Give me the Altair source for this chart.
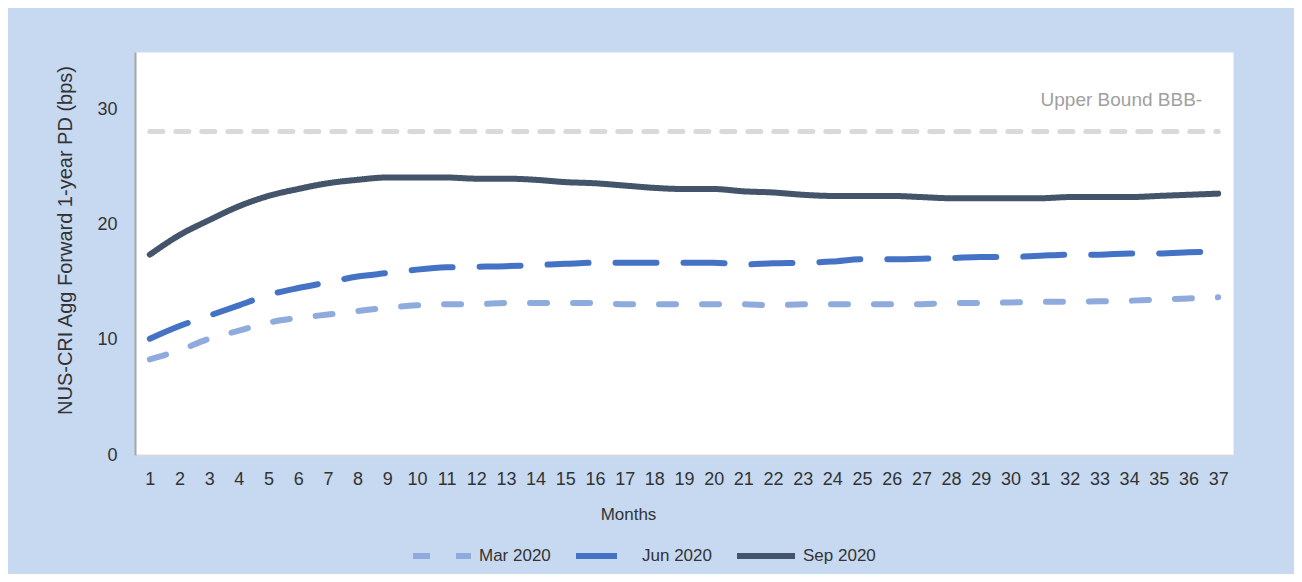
import altair as alt
import pandas as pd

months = list(range(1, 38))
series_names = ["Mar 2020", "Jun 2020", "Sep 2020"]
mar_2020 = [8.3, 9.1, 10.1, 10.8, 11.5, 11.9, 12.2, 12.5, 12.8, 13.0, 13.1, 13.1, 13.2,
            13.2, 13.2, 13.2, 13.1, 13.1, 13.1, 13.1, 13.1, 13.0, 13.1, 13.1, 13.1, 13.1,
            13.1, 13.2, 13.2, 13.25, 13.3, 13.3, 13.35, 13.4, 13.5, 13.6, 13.7]
jun_2020 = [10.1, 11.2, 12.1, 13.0, 13.9, 14.5, 15.0, 15.5, 15.8, 16.1, 16.3, 16.35, 16.4,
            16.5, 16.6, 16.7, 16.7, 16.7, 16.7, 16.7, 16.55, 16.65, 16.7, 16.8, 17.0, 17.0,
            17.05, 17.1, 17.2, 17.2, 17.3, 17.4, 17.4, 17.5, 17.5, 17.6, 17.7]
sep_2020 = [17.4, 19.1, 20.4, 21.6, 22.5, 23.1, 23.6, 23.9, 24.1, 24.1, 24.1, 24.0, 24.0,
            23.9, 23.7, 23.6, 23.4, 23.2, 23.1, 23.1, 22.9, 22.8, 22.6, 22.5, 22.5, 22.5,
            22.4, 22.3, 22.3, 22.3, 22.3, 22.4, 22.4, 22.4, 22.5, 22.6, 22.7]
upper_bound = 28.1
upper_label = "Upper Bound BBB-"
y_ticks = [0, 10, 20, 30]

colors = ["#8faadc", "#4472c4", "#44546a"]
dashes = [[17, 26], [41, 27], [1, 0]]

rows = []
for name, vals in zip(series_names, [mar_2020, jun_2020, sep_2020]):
    for m, v in zip(months, vals):
        rows.append({"Month": m, "PD": v, "Series": name})
df = pd.DataFrame(rows)
df_ub = pd.DataFrame({"Month": months, "PD": [upper_bound] * len(months)})
df_lbl = pd.DataFrame({"Month": [months[-1]], "PD": [upper_bound], "label": [upper_label]})

FONT = "Liberation Sans"

x_enc = alt.X("Month:O", axis=alt.Axis(
    title="Months", labelAngle=0, labelFontSize=18, labelPadding=15, ticks=False,
    domainColor="#d9d9d9", domainWidth=2, labelColor="#333333",
    titleFontSize=17, titleFontWeight="normal", titleColor="#333333",
    titleX=493, titleY=64, titleBaseline="alphabetic", titleAnchor="start", titleAlign="center"))
y_scale = alt.Scale(domain=[0, 35], nice=False)

ub = alt.Chart(df_ub).mark_line(color="#d9d9d9", strokeWidth=5, strokeDash=[13, 13],
                                 strokeCap="round").encode(
    x=x_enc,
    y=alt.Y("PD:Q", scale=y_scale),
)

lines = alt.Chart(df).mark_line(strokeWidth=6, strokeCap="round", interpolate="monotone").encode(
    x=x_enc,
    y=alt.Y("PD:Q", scale=y_scale, axis=alt.Axis(
        title="NUS-CRI Agg Forward 1-year PD (bps)", values=y_ticks, grid=False, ticks=False,
        labelFontSize=18, labelPadding=18, labelColor="#333333",
        domainColor="#a6a6a6", domainWidth=2,
        titleFontSize=20, titleFontWeight="normal", titleColor="#333333",
        titleX=-70, titleY=188, titleAngle=-90, titleBaseline="middle", titleAlign="center")),
    color=alt.Color("Series:N", scale=alt.Scale(domain=series_names, range=colors),
                    sort=series_names,
                    legend=alt.Legend(title=None, orient="none", direction="horizontal",
                                      legendX=275, legendY=472, symbolType="stroke",
                                      symbolSize=3364, symbolStrokeWidth=6,
                                      labelFontSize=17, labelOffset=5, columnPadding=13,
                                      labelColor="#333333", labelFont=FONT)),
    strokeDash=alt.StrokeDash("Series:N", scale=alt.Scale(domain=series_names, range=dashes),
                              sort=series_names, legend=None),
)

txt = alt.Chart(df_lbl).mark_text(align="right", baseline="alphabetic", dx=-16, dy=-25,
                                  fontSize=19, color="#a0a0a0", font=FONT).encode(
    x=alt.X("Month:O"),
    y=alt.Y("PD:Q", scale=y_scale),
    text="label:N",
)

chart = alt.layer(ub, lines, txt).properties(
    width=1098, height=403,
    padding={"left": 127, "top": 44, "right": 61, "bottom": 119},
    autosize=alt.AutoSizeParams(type="none"),
    background="#c6d9f1",
    view=alt.ViewBackground(fill="white", stroke="transparent"),
).configure_view(fill="white", stroke="transparent").configure(font=FONT)

chart.save("out.html", embed_options={"renderer": "svg", "actions": False})
